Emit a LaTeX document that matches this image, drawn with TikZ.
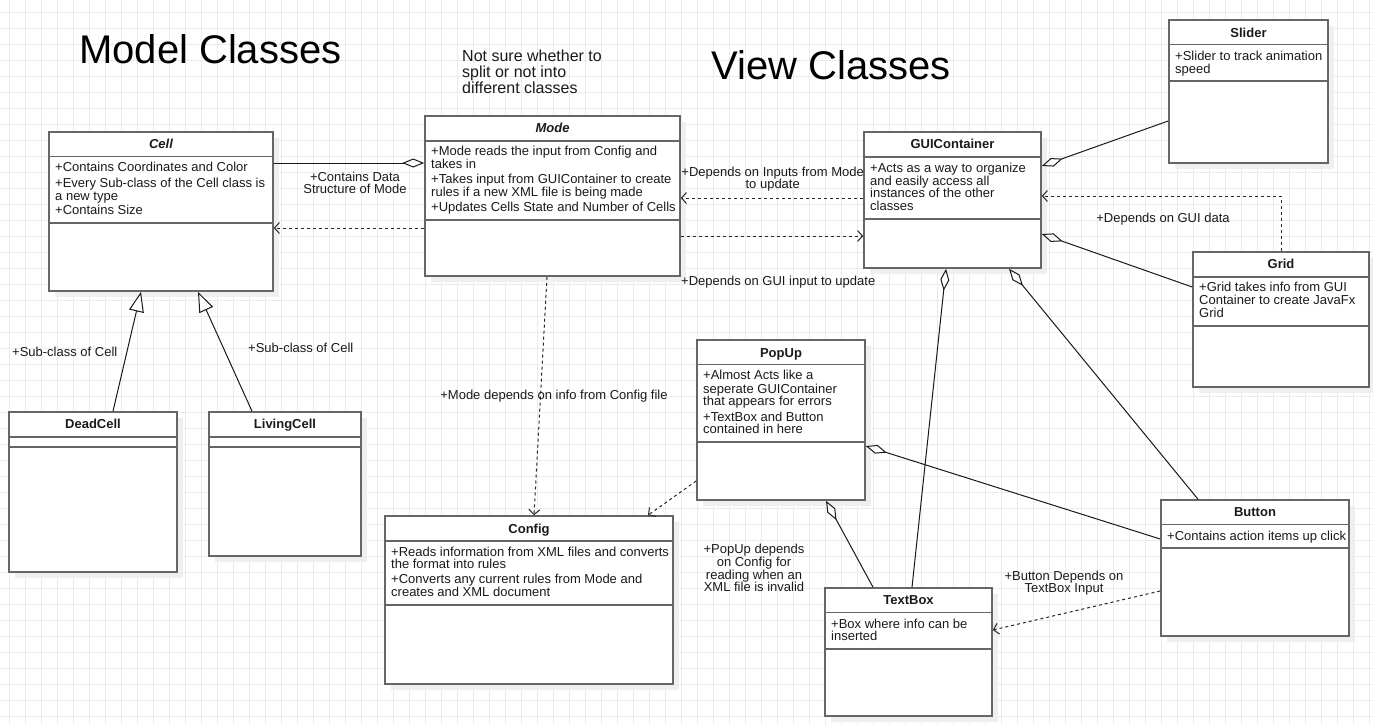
\documentclass[tikz,border=0pt]{standalone}
\usepackage{fontspec}
\setmainfont{Liberation Sans}
\usetikzlibrary{arrows.meta,calc}
\definecolor{gridc}{HTML}{EBEBEB}
\definecolor{boxc}{HTML}{666666}
\definecolor{shadc}{HTML}{EFEFEF}
\definecolor{txtc}{HTML}{1A1A1A}
\tikzset{
 classbox/.style={draw=boxc, line width=1.6pt, fill=white, inner sep=0pt},
 divline/.style={draw=boxc, line width=1.6pt},
 ctitle/.style={font=\fontsize{13}{15}\selectfont\bfseries, text=txtc, inner sep=0pt, anchor=base},
 attr/.style={font=\fontsize{13}{15}\selectfont, text=txtc, inner sep=0pt, anchor=base west},
 elabel/.style={font=\fontsize{13}{12.7}\selectfont, text=txtc, inner sep=0pt, align=center},
 heading/.style={font=\fontsize{40}{48}\selectfont, text=black, inner sep=0pt, anchor=base west},
 note/.style={font=\fontsize{16}{16}\selectfont, text=txtc, inner sep=0pt, anchor=base west},
 dep/.style={draw=black!85, line width=1pt, dash pattern=on 3pt off 3pt, -{Straight Barb[length=5pt,width=11pt]}},
 agg/.style={draw=black!90, line width=1pt, {Diamond[open,length=22pt,width=9pt]}-},
 gen/.style={draw=black!90, line width=1pt, -{Triangle[length=20pt,width=15pt,fill=white]}},
}
\newcommand{\umlclass}[9]{%
 \fill[shadc] ({#2+6},{#3+6}) rectangle ({#4+6},{#5+6});
 \node[classbox, minimum width={#4-#2}, minimum height={#5-#3}] (#1) at ({(#2+#4)/2},{(#3+#5)/2}) {};
 \draw[divline] (#2,#6) -- (#4,#6);
 \draw[divline] (#2,#7) -- (#4,#7);
 \node[ctitle] (#1-title) at ({(#2+#4)/2},{#9+4.6}) {#8};
}
\newcommand{\attrl}[4]{\node[attr] (#1) at (#2,{#3+4.6}) {#4};}
\begin{document}
\begin{tikzpicture}[x=1pt,y=-1pt]
\useasboundingbox (0,0) rectangle (1373,725);
\fill[white] (0,0) rectangle (1373,725);
\foreach \i in {0,...,85} \draw[gridc, line width=1pt] ({9.3+16*\i},0) -- ({9.3+16*\i},725);
\foreach \i in {0,...,44} \draw[gridc, line width=1pt] (0,{12.3+16*\i}) -- (1373,{12.3+16*\i});

% headings
\node[heading] (hmodel) at (79,63.3) {Model Classes};
\node[heading] (hview) at (711,80) {View Classes};
\node[note] (n1) at (462,61.7) {Not sure whether to};
\node[note] (n2) at (462,77.4) {split or not into};
\node[note] (n3) at (462,93) {different classes};

% classes
\umlclass{cell}{49}{132}{273}{291}{156.5}{223}{\itshape Cell}{144}
\attrl{cell-a1}{55}{167.3}{+Contains Coordinates and Color}
\attrl{cell-a2}{55}{182.7}{+Every Sub-class of the Cell class is}
\attrl{cell-a3}{55}{196}{a new type}
\attrl{cell-a4}{55}{210}{+Contains Size}

\umlclass{mode}{425}{116}{680}{276}{141}{220}{\itshape Mode}{128}
\attrl{mode-a1}{431}{151}{+Mode reads the input from Config and}
\attrl{mode-a2}{431}{164.3}{takes in}
\attrl{mode-a3}{431}{179.3}{+Takes input from GUIContainer to create}
\attrl{mode-a4}{431}{192}{rules if a new XML file is being made}
\attrl{mode-a5}{431}{207.3}{+Updates Cells State and Number of Cells}

\umlclass{gui}{864}{132}{1041}{268}{157}{219}{GUIContainer}{144.3}
\attrl{gui-a1}{870}{167.7}{+Acts as a way to organize}
\attrl{gui-a2}{870}{181}{and easily access all}
\attrl{gui-a3}{870}{193.3}{instances of the other}
\attrl{gui-a4}{870}{206.3}{classes}

\umlclass{slider}{1169}{20}{1328}{163}{44.5}{81}{Slider}{32.5}
\attrl{slider-a1}{1175}{55.7}{+Slider to track animation}
\attrl{slider-a2}{1175}{68.7}{speed}

\umlclass{grid}{1193}{252}{1369}{387}{277}{326}{Grid}{264.3}
\attrl{grid-a1}{1199}{287}{+Grid takes info from GUI}
\attrl{grid-a2}{1199}{300}{Container to create JavaFx}
\attrl{grid-a3}{1199}{313.3}{Grid}

\umlclass{dead}{9}{412}{177}{572}{437}{447}{DeadCell}{424.3}
\umlclass{living}{209}{412}{361}{556}{437}{447}{LivingCell}{424.3}

\umlclass{popup}{697}{340}{865}{500}{364.5}{442}{PopUp}{352.7}
\attrl{popup-a1}{703}{375}{+Almost Acts like a}
\attrl{popup-a2}{703}{388.7}{seperate GUIContainer}
\attrl{popup-a3}{703}{401.3}{that appears for errors}
\attrl{popup-a4}{703}{416.7}{+TextBox and Button}
\attrl{popup-a5}{703}{429.3}{contained in here}

\umlclass{config}{385}{516}{673}{684}{541}{605}{Config}{529}
\attrl{config-a1}{391}{551.7}{+Reads information from XML files and converts}
\attrl{config-a2}{391}{564.3}{the format into rules}
\attrl{config-a3}{391}{579.3}{+Converts any current rules from Mode and}
\attrl{config-a4}{391}{592.3}{creates and XML document}

\umlclass{textbox}{825}{588}{992}{716}{612.5}{649}{TextBox}{600}
\attrl{textbox-a1}{831}{624}{+Box where info can be}
\attrl{textbox-a2}{831}{636}{inserted}

\umlclass{button}{1161}{500}{1349}{636}{524.5}{548}{Button}{512.3}
\attrl{button-a1}{1167}{535.7}{+Contains action items up click}

% connectors
\draw[agg] (mode.west |- 0,163) -- (cell.east |- 0,163);
\draw[dep] (mode.west |- 0,228) -- (cell.east |- 0,228);
\draw[dep] (gui.west |- 0,198) -- (mode.east |- 0,198);
\draw[dep] (mode.east |- 0,236) -- (gui.west |- 0,236);
\draw[dep] (mode.south -| 547,0) -- (config.north -| 534,0);
\draw[dep] (popup.west |- 0,481) -- (config.north -| 648,0);
\draw[dep] (grid.north -| 1281,0) |- (gui.east |- 0,196);
\draw[dep] (button.west |- 0,591) -- (textbox.east |- 0,630);
\draw[agg] (gui.east |- 0,166) -- (slider.west |- 0,121);
\draw[agg] (gui.east |- 0,234) -- (grid.west |- 0,287);
\draw[agg] (gui.south -| 946,0) -- (textbox.north -| 912,0);
\draw[agg] (gui.south -| 1009,0) -- (button.north -| 1198,0);
\draw[agg] (popup.east |- 0,446) -- (button.west |- 0,539);
\draw[agg] (popup.south -| 826,0) -- (textbox.north -| 873,0);
\draw[gen] (dead.north -| 113,0) -- (cell.south -| 141,0);
\draw[gen] (living.north -| 252,0) -- (cell.south -| 198,0);

% connector labels
\node[elabel] (l1) at (355,183) {+Contains Data\\Structure of Mode};
\node[elabel] (l2) at (772.7,179) {+Depends on Inputs from Mode\\to update};
\node[attr] (l3) at (681,285.3) {+Depends on GUI input to update};
\node[elabel] (l4) at (1163,219) {+Depends on GUI data};
\node[attr] (l5) at (12,356.6) {+Sub-class of Cell};
\node[attr] (l6) at (248,352.6) {+Sub-class of Cell};
\node[elabel] (l7) at (554,395.7) {+Mode depends on info from Config file};
\node[elabel] (l8) at (754,568) {+PopUp depends\\on Config for\\reading when an\\XML file is invalid};
\node[elabel] (l9) at (1064,583) {+Button Depends on\\TextBox Input};
\end{tikzpicture}
\end{document}
